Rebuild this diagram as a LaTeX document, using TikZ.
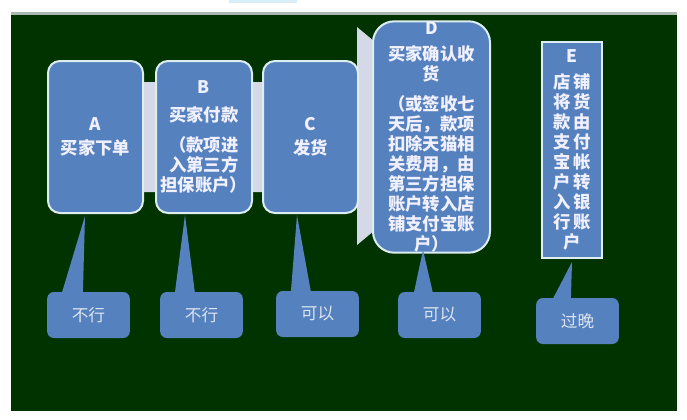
\documentclass[tikz,border=0pt]{standalone}
\usepackage{fontspec}
\newfontfamily\cjk{Noto Sans CJK SC}
\usetikzlibrary{calc}
\definecolor{board}{HTML}{013301}
\definecolor{boxblue}{HTML}{5581BF}
\definecolor{boxline}{HTML}{DDEEF0}
\definecolor{band}{HTML}{D5D8E6}
\definecolor{tiptext}{HTML}{DCE4F0}
\definecolor{topline}{HTML}{A9B9B1}
\definecolor{toptab}{HTML}{D9EEF9}

\begin{document}
\begin{tikzpicture}[x=0.75pt,y=-0.75pt,
		stage/.style={draw=boxline, line width=1.5pt, fill=boxblue, rounded corners=9pt, text=white!94!blue, font=\cjk\bfseries\fontsize{13}{15}\selectfont, align=center, inner sep=0pt},
		note/.style={fill=boxblue, rounded corners=5pt, text=tiptext, font=\cjk\fontsize{12.5}{14}\selectfont, minimum width=62pt, minimum height=34.5pt, inner sep=0pt}]
			\useasboundingbox (0,0) rectangle (687,419);
			
			% board
			\fill[toptab] (229,0) rectangle (297,3);
			\fill[topline] (11,12) rectangle (677,15);
			\fill[board] (11,15) rectangle (677,411);
			
			% arrow behind the stages
			\fill[band] (60,82) -- (357,82) -- (357,27) -- (488,136) -- (357,245) -- (357,192) -- (60,192) -- cycle;
			
			\node[stage, minimum width=71.25pt, minimum height=114pt] (A) at (95.5,137) {A\\[3pt]买家下单};
			\node[stage, minimum width=72pt, minimum height=114pt] (B) at (204,137) {B\\[6pt]买家付款\\[7pt]（款项进\\入第三方\\担保账户）};
			\node[stage, minimum width=71.25pt, minimum height=114pt] (C) at (310.5,137) {C\\[3pt]发货};
			\node[stage, rounded corners=16pt, minimum width=87.75pt, minimum height=165pt] (D) at (431.5,137) {D\\[5pt]买家确认收\\货\\[7.5pt]（或签收七\\天后，款项\\扣除天猫相\\关费用，由\\第三方担保\\账户转入店\\铺支付宝账\\户）};
			\node[stage, rounded corners=0pt, minimum width=45pt, minimum height=162pt] (E) at (572,150) {E\\[4pt]店\,铺\\将\,货\\款\,由\\支\,付\\宝\,帐\\户\,转\\入\,银\\行\,账\\户};
			
			\node[note] (n1) at (88.5,315) {不行};
			\node[note] (n2) at (201.5,315) {不行};
			\node[note] (n3) at (317.5,314) {可以};
			\node[note] (n4) at (439.5,315) {可以};
			\node[note] (n5) at (577.5,321) {过晚};
			
			\coordinate (t1) at (85,216);
			\coordinate (t2) at (185,215);
			\coordinate (t3) at (297,215);
			\coordinate (t4) at (423,250);
			\coordinate (t5) at (572,262);
			
			\fill[boxblue] ($(n1.north west)+(15,1)$) -- (t1) -- ($(n1.north west)+(36,1)$) -- cycle;
			\fill[boxblue] ($(n2.north west)+(15,1)$) -- (t2) -- ($(n2.north west)+(35,1)$) -- cycle;
			\fill[boxblue] ($(n3.north west)+(15,1)$) -- (t3) -- ($(n3.north west)+(35,1)$) -- cycle;
			\fill[boxblue] ($(n4.north west)+(16,1)$) -- (t4) -- ($(n4.north west)+(35,1)$) -- cycle;
			\fill[boxblue] ($(n5.north west)+(17,1)$) -- (t5) -- ($(n5.north west)+(35,1)$) -- cycle;
		\end{tikzpicture}
\end{document}
